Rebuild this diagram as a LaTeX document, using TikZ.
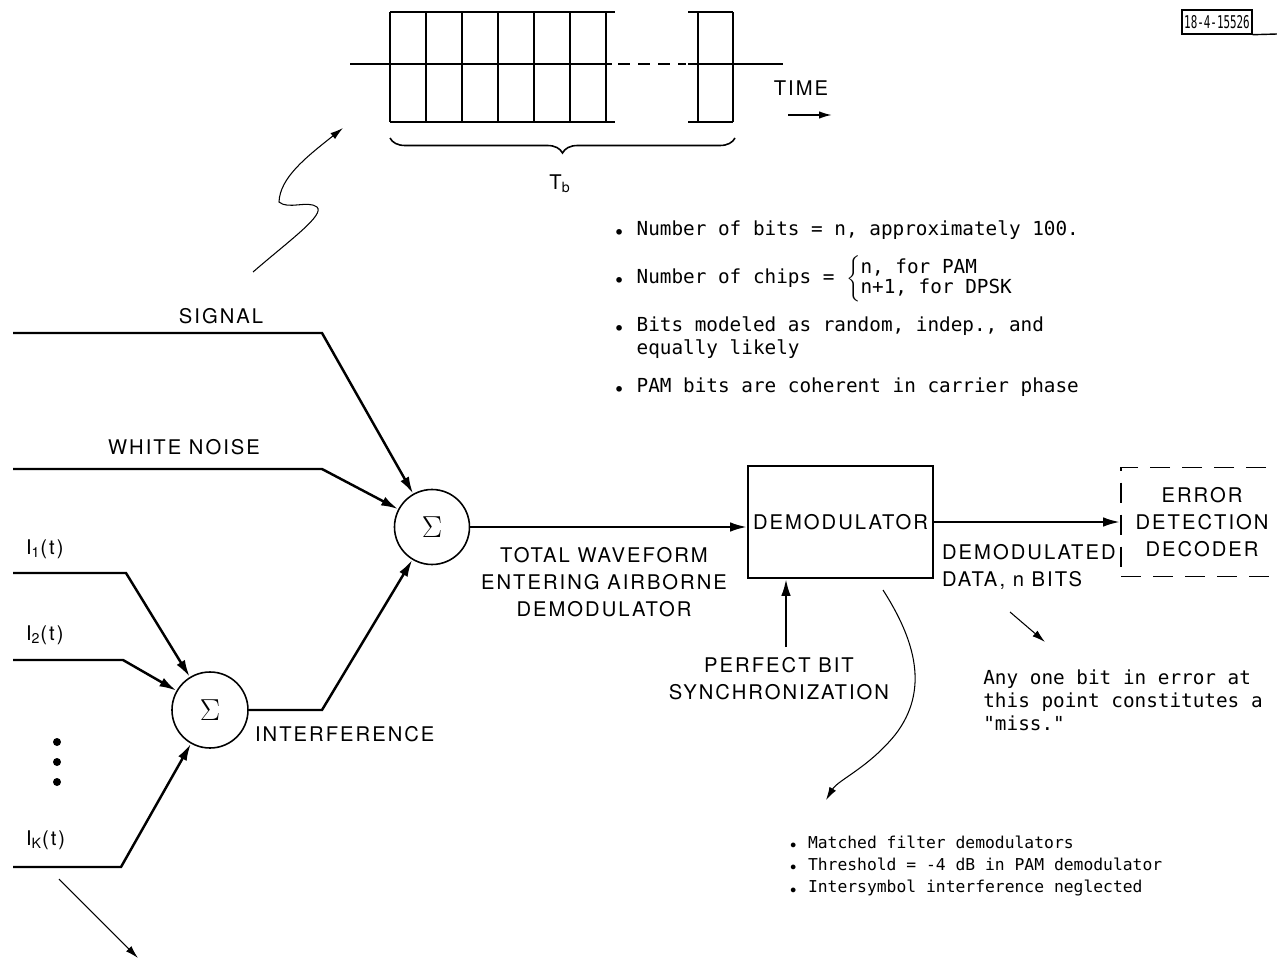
\documentclass[tikz,border=0pt]{standalone}
\usepackage{fontspec}
\usepackage{graphicx}
\usepackage{amsmath}
\usetikzlibrary{positioning, arrows.meta, decorations.pathreplacing, calc}
\newfontfamily\lblfont[LetterSpace=10]{TeX Gyre Heros}
\newfontfamily\notefont{DejaVu Sans Mono}
\newcommand{\bul}{\raisebox{-0.35ex}{•}}
\tikzset{
  sumnode/.style={
    circle, draw, line width=0.9pt,
    minimum size=15mm, inner sep=0pt, font=\LARGE
  },
  blockbox/.style={
    rectangle, draw, line width=0.9pt,
    minimum width=37mm, minimum height=22.4mm,
    align=center, font=\lblfont\fontsize{11.5}{15.5}\selectfont, inner sep=2pt
  },
  decbox/.style={blockbox, dash pattern=on 4mm off 2.4mm, minimum width=32.4mm, minimum height=21.8mm},
  lbltext/.style={font=\lblfont\fontsize{11.5}{15.5}\selectfont, align=center, inner sep=1pt},
  notetext/.style={font=\notefont\fontsize{11}{13.2}\selectfont, align=left, inner sep=0pt},
  smallnote/.style={notetext, font=\notefont\fontsize{9.3}{12.8}\selectfont},
  sigline/.style={-{Latex[length=3.4mm,width=1.9mm]}, line width=1.4pt},
  thinarrow/.style={-{Latex[length=2.6mm,width=1.5mm]}, line width=0.6pt},
  chipline/.style={line width=1.1pt}
}
\begin{document}
\begin{tikzpicture}[x=0.2mm, y=-0.2mm]
  \useasboundingbox (0,0) rectangle (1277,961);

  % chip frame over one bit
  \draw[chipline] (390,12) -- (615,12) (390,122) -- (615,122);
  \foreach \x in {390,426,...,606} \draw[chipline] (\x,12) -- (\x,122);
  \draw[chipline] (688,12) -- (733,12) (688,122) -- (733,122);
  \foreach \x in {698,733} \draw[chipline] (\x,12) -- (\x,122);
  \draw[line width=0.9pt] (350,64) -- (612,64);
  \draw[line width=0.9pt, dash pattern=on 2.4mm off 1.6mm] (618,64) -- (686,64);
  \draw[line width=0.9pt] (688,64) -- (783,64);
  \draw[line width=0.9pt, decorate, decoration={brace, mirror, amplitude=3mm}] (390,138) -- (735,138);
  \node[lbltext] (tb) at (560,184) {T\textsubscript{b}};
  \node[lbltext] (time) at (801,88) {TIME};
  \coordinate (timeA) at (788,115);
  \coordinate (timeB) at (832,115);
  \draw[thinarrow, line width=1pt] (timeA) -- (timeB);

  \node[draw, line width=0.8pt, font=\notefont\fontsize{10}{11}\selectfont,
        minimum width=14mm, minimum height=4.8mm, inner sep=0pt] (tag) at (1217,22) {\scalebox{0.62}[1]{18-4-15526}};
  \coordinate (tagEdge) at (1277,34);
  \draw[line width=0.8pt] (tag.south east) -- (tagEdge);

  % squiggle pointing at the chips
  \coordinate (sqTail) at (253,272);
  \coordinate (sqHead) at (343,128);
  \draw[thinarrow] (sqTail) .. controls (290,240) and (325,215) .. (317,207)
    .. controls (308,200) and (288,210) .. (279,202)
    .. controls (280,178) and (305,158) .. (sqHead);

  % notes
  \node[notetext, anchor=west] (nbits) at (613,230) {\bul{} Number of bits = n, approximately 100.};
  \node[notetext, anchor=west] (nchips) at (613,279) {\bul{} Number of chips = {\renewcommand{\arraystretch}{0.86}$\left\{\begin{tabular}{@{}l@{}}n, for PAM\\ n+1, for DPSK\end{tabular}\right.$}};
  \node[notetext, anchor=west] (nrand) at (613,338) {\bul{} Bits modeled as random, indep., and\\\phantom{•}\ equally likely};
  \node[notetext, anchor=west] (ncoh) at (613,387) {\bul{} PAM bits are coherent in carrier phase};

  % summers and blocks
  \node[sumnode] (sumA) at (432,527) {$\Sigma$};
  \node[sumnode, minimum size=15.2mm] (sumB) at (210,710) {$\Sigma$};
  \node[blockbox] (demod) at (840.5,522) {DEMODULATOR};
  \node[decbox] (decoder) at (1202,522) {ERROR\\DETECTION\\DECODER};

  % inputs
  \node[lbltext] (siglbl) at (221,316) {SIGNAL};
  \node[lbltext] (wnlbl) at (184,447) {WHITE NOISE};
  \node[lbltext, anchor=west] (i1lbl) at (24,549) {I\textsubscript{1}(t)};
  \node[lbltext, anchor=west] (i2lbl) at (24,635) {I\textsubscript{2}(t)};
  \node[lbltext, anchor=west] (iklbl) at (24,840) {I\textsubscript{K}(t)};
  \foreach \y in {742,762,782} \fill (57,\y) circle (0.8mm);

  \coordinate (sigIn) at (13,333);  \coordinate (sigBend) at (322,333);
  \coordinate (wnIn) at (13,469);   \coordinate (wnBend) at (322,469);
  \coordinate (i1In) at (13,573);   \coordinate (i1Bend) at (126,573);
  \coordinate (i2In) at (13,660);   \coordinate (i2Bend) at (123,660);
  \coordinate (ikIn) at (13,867);   \coordinate (ikBend) at (121,867);
  \coordinate (intBend) at (322,710);

  \draw[sigline] (sigIn) -- (sigBend) -- (sumA);
  \draw[sigline] (wnIn) -- (wnBend) -- (sumA);
  \draw[sigline] (i1In) -- (i1Bend) -- (sumB);
  \draw[sigline] (i2In) -- (i2Bend) -- (sumB);
  \draw[sigline] (ikIn) -- (ikBend) -- (sumB);
  \draw[sigline] (sumB) -- (intBend) -- (sumA);
  \node[lbltext, anchor=west] (intlbl) at (253,734) {INTERFERENCE};

  \draw[sigline] (sumA) -- (sumA.east -| demod.west);
  \node[lbltext] (totlbl) at (604,582) {TOTAL WAVEFORM\\ENTERING AIRBORNE\\DEMODULATOR};

  \coordinate (syncFoot) at (786,647);
  \draw[sigline] (syncFoot) -- (syncFoot |- demod.south);
  \node[lbltext] (synclbl) at (779,679) {PERFECT BIT\\SYNCHRONIZATION};

  \draw[sigline] (demod) -- (decoder);
  \node[lbltext, anchor=west, align=left] (dmlbl) at (940,567) {DEMODULATED\\DATA, n BITS};

  % side remarks
  \coordinate (kTail) at (59,879);  \coordinate (kHead) at (138,958);
  \draw[thinarrow] (kTail) -- (kHead);
  \coordinate (missTail) at (1010,612);  \coordinate (missHead) at (1045,642);
  \draw[thinarrow] (missTail) -- (missHead);
  \node[notetext, anchor=west] (missnote) at (983,700) {Any one bit in error at\\this point constitutes a\\"miss."};

  \coordinate (crvTail) at (883,590);  \coordinate (crvHead) at (826,800);
  \draw[thinarrow] (crvTail) .. controls (915,640) and (930,690) .. (895,735)
    .. controls (868,768) and (838,780) .. (crvHead);
  \node[smallnote, anchor=west] (demnote) at (788,866) {\bul{} Matched filter demodulators\\\bul{} Threshold = -4 dB in PAM demodulator\\\bul{} Intersymbol interference neglected};
\end{tikzpicture}
\end{document}
